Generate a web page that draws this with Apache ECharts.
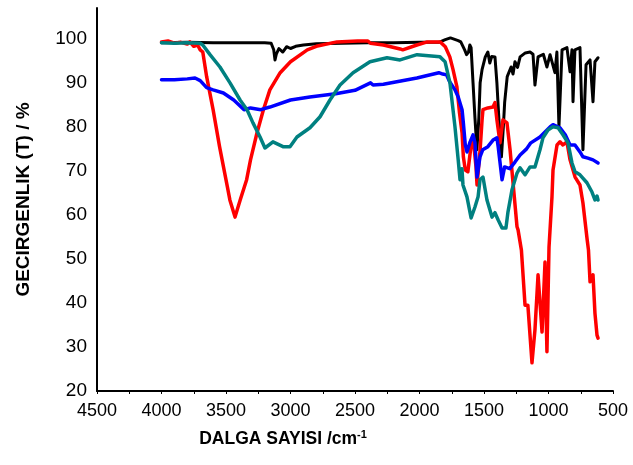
<!DOCTYPE html>
<html><head><meta charset="utf-8">
<script src="https://cdn.jsdelivr.net/npm/echarts@6/dist/echarts.min.js"></script>
<style>html,body{margin:0;padding:0;background:#fff}#c{width:633px;height:465px}</style>
</head><body><div id="c"></div>
<script>
const xTicks = [4500,4000,3500,3000,2500,2000,1500,1000,500];
const yTicks = [20,30,40,50,60,70,80,90,100];
const xTitle = 'DALGA SAYISI /cm';
const xTitleSup = '-1';
const yTitle = 'GECIRGENLIK (T) / %';

const blackSeries = [[4000,99.1],[3800,99.2],[3600,99.1],[3400,99.1],[3200,99.1],[3150,99.0],[3130,97.5],[3120,95.2],[3110,96.5],[3090,97.8],[3060,97.0],[3030,98.2],[3000,97.8],[2960,98.3],[2900,98.6],[2800,98.9],[2600,99.0],[2400,99.1],[2200,99.1],[2000,99.2],[1850,99.2],[1800,99.8],[1760,100.2],[1700,99.6],[1680,99.3],[1650,97.5],[1635,96.4],[1620,97.0],[1610,98.6],[1600,98.0],[1585,90],[1570,82],[1555,74.8],[1540,82],[1530,90],[1515,93.0],[1490,95.9],[1470,97.0],[1455,94.5],[1440,96],[1415,95.9],[1400,90],[1385,82],[1365,73.2],[1350,80],[1340,85.5],[1320,91.4],[1290,93.6],[1275,92],[1260,94.8],[1240,93.5],[1220,95.9],[1180,96.8],[1143,97.0],[1120,96.5],[1105,89.5],[1081,95.9],[1040,96.5],[1012,93.6],[988,96.4],[950,92.3],[935,97.0],[919,80.0],[895,97.5],[857,98.0],[833,92.5],[818,97.5],[810,85.7],[795,97.5],[756,98.0],[733,74.8],[709,94.1],[678,95.2],[655,85.7],[640,94.8],[616,95.7]];

const redSeries = [[4000,99.3],[3950,99.5],[3900,99.0],[3850,99.2],[3800,98.8],[3780,99.3],[3750,98.3],[3720,98.6],[3700,97.5],[3680,97.0],[3650,91.4],[3600,83.9],[3550,75.5],[3490,66.5],[3470,63.4],[3430,59.5],[3390,63.4],[3340,68.0],[3310,72.5],[3260,78.6],[3210,83.9],[3160,88.4],[3080,92.3],[3000,94.8],[2870,97.5],[2800,98.3],[2640,99.3],[2480,99.5],[2400,99.5],[2380,99.0],[2280,98.6],[2150,97.7],[2130,97.5],[2020,98.6],[1940,99.3],[1840,99.3],[1800,98.2],[1785,98.0],[1765,95.9],[1740,93.0],[1710,89.1],[1690,83.2],[1670,78.6],[1660,73.2],[1645,70.2],[1625,69.8],[1595,77.0],[1585,77.7],[1562,70.9],[1554,66.8],[1530,74.8],[1515,81.6],[1508,83.9],[1470,84.3],[1430,84.5],[1415,85.5],[1400,81.6],[1376,76.4],[1353,81.6],[1322,80.9],[1298,74.8],[1275,67.3],[1244,57.3],[1236,56.6],[1210,52.0],[1198,51.6],[1182,39.5],[1160,39.5],[1128,26.4],[1105,33.9],[1081,46.4],[1050,33.4],[1027,49.3],[1012,28.9],[996,52.7],[973,64.1],[965,70.2],[934,75.9],[911,76.6],[888,75.9],[857,76.6],[833,72.5],[794,68.6],[756,66.8],[733,62.7],[700,54.3],[690,52.0],[678,44.8],[655,46.4],[640,37.7],[624,32.7],[616,32.0]];

const blueSeries = [[4000,90.7],[3900,90.7],[3800,90.9],[3740,91.1],[3700,90.5],[3650,88.9],[3600,88.4],[3520,87.7],[3440,86.1],[3360,83.9],[3310,84.3],[3230,83.9],[3160,84.5],[3000,86.1],[2850,86.8],[2650,87.5],[2500,88.3],[2380,90.0],[2360,89.5],[2280,89.7],[2020,91.1],[1850,92.3],[1820,92.0],[1790,91.8],[1765,90.2],[1725,88.4],[1700,86.8],[1670,83.9],[1660,80.9],[1645,75.9],[1632,74.3],[1610,76.4],[1585,78.2],[1570,76.4],[1554,68.6],[1531,73.2],[1510,74.8],[1470,75.5],[1430,77.0],[1400,77.5],[1390,75.5],[1360,68.0],[1340,70.9],[1300,70.5],[1260,72.0],[1220,73.6],[1170,75.0],[1140,76.3],[1066,77.7],[988,80.0],[965,80.5],[911,79.8],[870,78.2],[833,75.9],[795,75.9],[756,74.3],[733,73.2],[695,72.9],[655,72.5],[616,71.8]];

const tealSeries = [[4000,99.1],[3900,99.0],[3800,99.1],[3700,99.0],[3680,98.6],[3624,96.4],[3547,93.6],[3469,90.0],[3391,86.1],[3337,83.9],[3291,80.9],[3236,77.7],[3198,75.2],[3136,76.6],[3058,75.5],[3004,75.5],[2950,77.7],[2849,79.8],[2771,82.3],[2694,86.1],[2616,89.5],[2515,92.3],[2384,94.8],[2252,95.7],[2151,95.2],[2019,96.4],[1841,95.9],[1802,94.8],[1764,90.0],[1725,80.0],[1700,72.5],[1686,68.0],[1671,70.5],[1663,66.8],[1632,64.1],[1600,59.3],[1570,61.8],[1546,64.1],[1531,68.0],[1508,68.6],[1477,63.4],[1438,59.5],[1415,60.5],[1391,58.9],[1360,57.0],[1330,57.0],[1314,60.7],[1283,65.7],[1244,69.5],[1221,70.7],[1182,69.1],[1143,70.9],[1105,70.9],[1066,74.8],[1043,77.5],[1004,79.3],[965,80.0],[926,79.8],[888,78.2],[849,76.4],[818,71.8],[794,69.8],[756,69.1],[702,67.3],[663,65.2],[640,63.4],[624,64.3],[616,63.4]];

const font = '"Liberation Sans", Arial, sans-serif';
const chart = echarts.init(document.getElementById('c'));
function line(data, color, w) {
  return {type:'line', data:data, showSymbol:false, symbol:'none', smooth:false,
    lineStyle:{color:color, width:w, join:'round', cap:'round'}, animation:false, z:2};
}
chart.setOption({
  animation:false,
  grid:{left:97, right:20, top:8, bottom:74, containLabel:false},
  xAxis:{type:'value', inverse:true, min:500, max:4500, interval:500,
    axisLine:{show:true, onZero:false, lineStyle:{color:'#000', width:2}},
    axisTick:{show:true, length:3, lineStyle:{color:'#000'}},
    minorTick:{show:true, splitNumber:2, length:3, lineStyle:{color:'#000'}},
    splitLine:{show:false},
    axisLabel:{color:'#000', fontSize:18, fontFamily:font, margin:11,
      formatter:function(v){return xTicks.indexOf(v)>=0 ? String(v) : '';}},
    name:'{a|'+xTitle+'}{s|'+xTitleSup+'}', nameLocation:'middle', nameGap:38,
    nameTextStyle:{padding:[0,144,0,0], rich:{
      a:{fontSize:17.5, fontWeight:'bold', fontFamily:font, color:'#000'},
      s:{fontSize:11, fontWeight:'bold', fontFamily:font, color:'#000', verticalAlign:'top', padding:[0,0,10,0]}}}
  },
  yAxis:{type:'value', min:20, max:107, interval:10,
    axisLine:{show:true, onZero:false, lineStyle:{color:'#000', width:2}},
    axisTick:{show:false}, splitLine:{show:false},
    axisLabel:{color:'#000', fontSize:19, fontFamily:font, margin:10, showMaxLabel:false,
      formatter:function(v){return yTicks.indexOf(v)>=0 ? String(v) : '';}},
    name:yTitle, nameLocation:'middle', nameGap:64,
    nameTextStyle:{fontSize:19, fontWeight:'bold', fontFamily:font, color:'#000'}
  },
  series:[
    line(blackSeries,'#000000',3),
    line(redSeries,'#ff0000',3.5),
    line(blueSeries,'#0000ff',3.5),
    line(tealSeries,'#008080',3.5)
  ]
});
</script></body></html>
